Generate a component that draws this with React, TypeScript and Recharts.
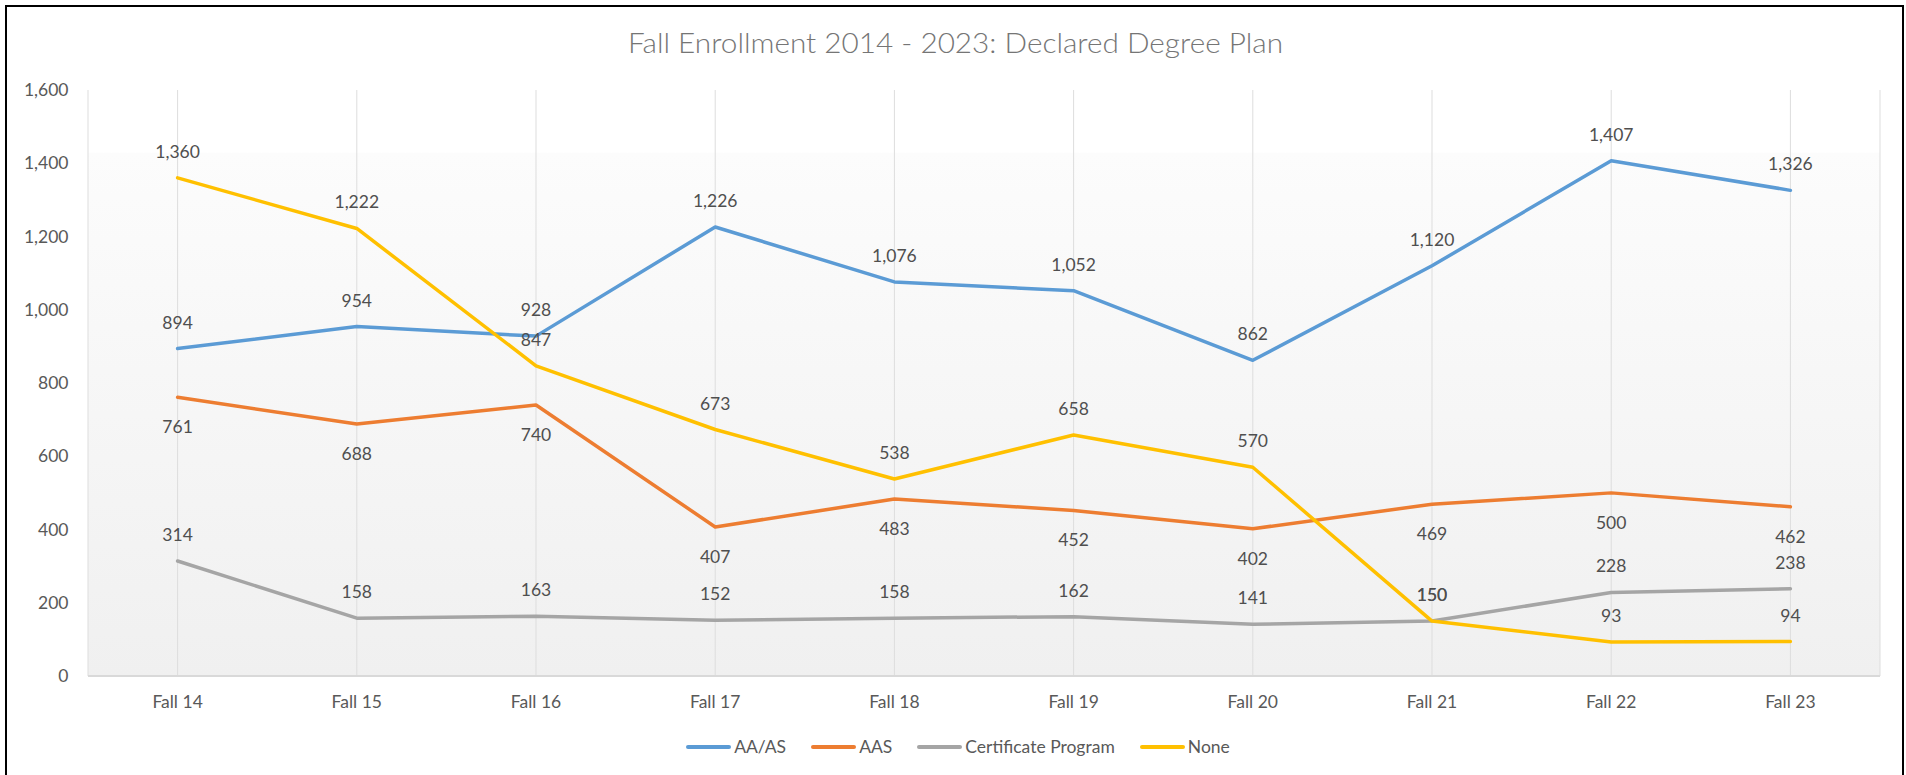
import React from 'react';
import { LineChart, Line, XAxis, YAxis, CartesianGrid, Legend, LabelList } from 'recharts';

const categories = ['Fall 14', 'Fall 15', 'Fall 16', 'Fall 17', 'Fall 18', 'Fall 19', 'Fall 20', 'Fall 21', 'Fall 22', 'Fall 23'];
const aaasValues = [894, 954, 928, 1226, 1076, 1052, 862, 1120, 1407, 1326];
const aasValues = [761, 688, 740, 407, 483, 452, 402, 469, 500, 462];
const certificateValues = [314, 158, 163, 152, 158, 162, 141, 150, 228, 238];
const noneValues = [1360, 1222, 847, 673, 538, 658, 570, 150, 93, 94];
const yTicks = [0, 200, 400, 600, 800, 1000, 1200, 1400, 1600];
const seriesNames = ['AA/AS', 'AAS', 'Certificate Program', 'None'];
const chartTitle = 'Fall Enrollment 2014 - 2023: Declared Degree Plan';

const data = categories.map((cat, i) => ({
  cat,
  aaas: aaasValues[i],
  aas: aasValues[i],
  cert: certificateValues[i],
  none: noneValues[i],
}));

const FONT = 'Lato, "Open Sans", sans-serif';
const FS = 17.5;
const fmt = (v: any) => Number(v).toLocaleString('en-US');

const makeLabel = (dir: 'above' | 'below') => (props: any) => {
  const { x, y, value } = props;
  if (x == null || y == null || value == null) return null;
  const baseline = dir === 'above' ? y - 20 : y + 36;
  return (
    <text x={x} y={baseline} textAnchor="middle" fill="#4f4f4f" fontSize={FS} fontFamily={FONT}>
      {fmt(value)}
    </text>
  );
};

const renderLegend = (props: any) => {
  const { payload } = props;
  return (
    <div
      style={{
        display: 'flex',
        justifyContent: 'center',
        alignItems: 'center',
        gap: 25,
        paddingLeft: 10,
        fontFamily: FONT,
        fontSize: FS,
        lineHeight: '24px',
        color: '#595959',
      }}
    >
      {(payload || []).map((p: any) => (
        <div key={p.value} style={{ display: 'flex', alignItems: 'center' }}>
          <span
            style={{
              display: 'inline-block',
              width: 45,
              height: 3.5,
              background: p.color,
              borderRadius: 2,
              marginRight: 3,
            }}
          />
          <span>{p.value}</span>
        </div>
      ))}
    </div>
  );
};

export default function App() {
  return (
    <div style={{ position: 'absolute', left: 0, top: 0, width: 1906, height: 775, overflow: 'hidden', background: '#fff' }}>
      <div
        style={{
          position: 'absolute',
          left: 5,
          top: 5,
          width: 1899,
          height: 800,
          boxSizing: 'border-box',
          border: '2px solid #000',
        }}
      />
      <div style={{ position: 'absolute', left: 0, top: 0 }}>
        <LineChart width={1906} height={775} data={data} margin={{ top: 90, right: 26, bottom: 0, left: 0 }}>
          <defs>
            <linearGradient id="plotBg" x1="0" y1="0" x2="0" y2="1">
              <stop offset="0" stopColor="#ffffff" />
              <stop offset="0.106" stopColor="#ffffff" />
              <stop offset="0.108" stopColor="#fcfcfc" />
              <stop offset="1" stopColor="#f0f0f0" />
            </linearGradient>
          </defs>
          <text
            x={955.5}
            y={53}
            textAnchor="middle"
            fontSize={27}
            fontFamily={FONT}
            fontWeight={300}
            fill="#757575"
            textLength={655}
            lengthAdjust="spacingAndGlyphs"
          >
            {chartTitle}
          </text>
          <CartesianGrid horizontal={false} vertical={true} stroke="#dddddd" strokeWidth={1} fill="url(#plotBg)" />
          <XAxis
            dataKey="cat"
            scale="band"
            height={99}
            tickLine={false}
            tickSize={0}
            tickMargin={20}
            axisLine={{ stroke: '#d9d9d9', strokeWidth: 2 }}
            tick={{ fill: '#595959', fontSize: FS, fontFamily: FONT }}
            interval={0}
          />
          <YAxis
            type="number"
            domain={[0, 1600]}
            ticks={yTicks}
            tickFormatter={fmt}
            width={88}
            axisLine={false}
            tickLine={false}
            tickSize={0}
            tickMargin={19.5}
            tick={{ fill: '#595959', fontSize: FS, fontFamily: FONT }}
          />
          <Legend
            layout="horizontal"
            verticalAlign="middle"
            align="center"
            wrapperStyle={{ top: 735, left: 0, width: 1906, height: 24 }}
            content={renderLegend}
          />
          <Line dataKey="aaas" name={seriesNames[0]} stroke="#5B9BD5" strokeWidth={3.5} dot={false} activeDot={false} isAnimationActive={false} strokeLinejoin="round" strokeLinecap="round">
            <LabelList dataKey="aaas" content={makeLabel('above')} />
          </Line>
          <Line dataKey="aas" name={seriesNames[1]} stroke="#ED7D31" strokeWidth={3.5} dot={false} activeDot={false} isAnimationActive={false} strokeLinejoin="round" strokeLinecap="round">
            <LabelList dataKey="aas" content={makeLabel('below')} />
          </Line>
          <Line dataKey="cert" name={seriesNames[2]} stroke="#A5A5A5" strokeWidth={3.5} dot={false} activeDot={false} isAnimationActive={false} strokeLinejoin="round" strokeLinecap="round">
            <LabelList dataKey="cert" content={makeLabel('above')} />
          </Line>
          <Line dataKey="none" name={seriesNames[3]} stroke="#FFC000" strokeWidth={3.5} dot={false} activeDot={false} isAnimationActive={false} strokeLinejoin="round" strokeLinecap="round">
            <LabelList dataKey="none" content={makeLabel('above')} />
          </Line>
        </LineChart>
      </div>
    </div>
  );
}
